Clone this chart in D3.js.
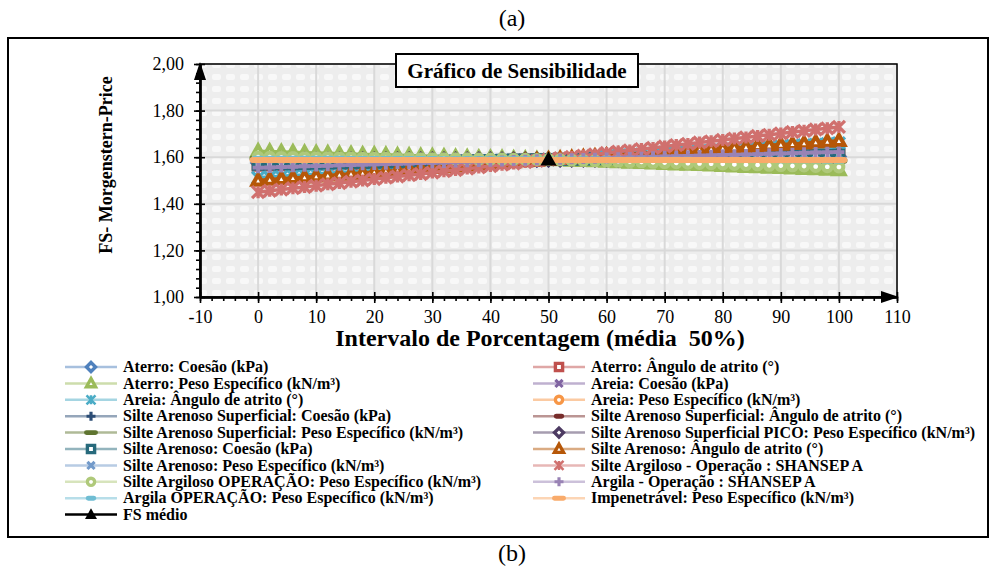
<!DOCTYPE html>
<html>
<head>
<meta charset="utf-8">
<script src="https://cdn.jsdelivr.net/npm/d3@7"></script>
<style>
body { margin: 0; background: #fff; }
svg text { font-family: "Liberation Serif", "Times New Roman", serif; fill: #000; }
</style>
</head>
<body>
<div id="chart"></div>
<script>
'use strict';

// intervalo de porcentagem (eixo x)
var pct = [0,2,4,6,8,10,12,14,16,18,20,22,24,26,28,30,32,34,36,38,40,42,44,46,48,50,52,54,56,58,60,62,64,66,68,70,72,74,76,78,80,82,84,86,88,90,92,94,96,98,100]

var aterroCoesao = [1.575,1.576,1.576,1.577,1.577,1.578,1.579,1.579,1.580,1.580,1.581,1.582,1.582,1.583,1.583,1.584,1.585,1.585,1.586,1.586,1.587,1.588,1.588,1.589,1.589,1.590,1.591,1.591,1.592,1.592,1.593,1.593,1.594,1.594,1.595,1.595,1.596,1.596,1.597,1.597,1.598,1.598,1.599,1.599,1.600,1.600,1.601,1.601,1.602,1.602,1.603]
var aterroAngulo = [1.565,1.566,1.567,1.568,1.569,1.570,1.571,1.572,1.573,1.574,1.575,1.576,1.577,1.578,1.579,1.580,1.581,1.582,1.583,1.584,1.585,1.586,1.587,1.588,1.589,1.590,1.591,1.592,1.593,1.594,1.594,1.595,1.596,1.597,1.598,1.599,1.600,1.601,1.601,1.602,1.603,1.604,1.605,1.606,1.607,1.607,1.608,1.609,1.610,1.611,1.612]
var aterroPeso = [1.625,1.624,1.622,1.621,1.619,1.618,1.617,1.615,1.614,1.612,1.611,1.610,1.608,1.607,1.605,1.604,1.603,1.601,1.600,1.598,1.597,1.596,1.594,1.593,1.591,1.590,1.588,1.586,1.585,1.583,1.581,1.579,1.577,1.576,1.574,1.572,1.570,1.568,1.567,1.565,1.563,1.561,1.559,1.558,1.556,1.554,1.552,1.550,1.549,1.547,1.545]
var areiaCoesao = [1.588,1.588,1.588,1.588,1.588,1.588,1.588,1.588,1.588,1.588,1.588,1.588,1.589,1.589,1.589,1.589,1.589,1.589,1.589,1.589,1.589,1.589,1.589,1.589,1.589,1.590,1.590,1.590,1.590,1.590,1.590,1.590,1.590,1.590,1.590,1.590,1.590,1.590,1.591,1.591,1.591,1.591,1.591,1.591,1.591,1.591,1.591,1.591,1.591,1.591,1.591]
var areiaAngulo = [1.512,1.515,1.518,1.521,1.524,1.528,1.531,1.534,1.537,1.540,1.543,1.546,1.549,1.553,1.556,1.559,1.562,1.565,1.568,1.571,1.574,1.578,1.581,1.584,1.587,1.590,1.593,1.596,1.598,1.601,1.604,1.607,1.610,1.612,1.615,1.618,1.621,1.624,1.626,1.629,1.632,1.635,1.638,1.640,1.643,1.646,1.649,1.652,1.654,1.657,1.660]
var areiaPeso = [1.592,1.592,1.592,1.592,1.592,1.592,1.592,1.592,1.592,1.592,1.592,1.592,1.591,1.591,1.591,1.591,1.591,1.591,1.591,1.591,1.591,1.591,1.591,1.591,1.591,1.590,1.590,1.590,1.590,1.590,1.590,1.590,1.590,1.590,1.590,1.590,1.590,1.590,1.588,1.588,1.588,1.588,1.588,1.588,1.588,1.588,1.588,1.588,1.588,1.588,1.588]
var sasCoesao = [1.582,1.582,1.583,1.583,1.583,1.584,1.584,1.584,1.585,1.585,1.585,1.586,1.586,1.586,1.587,1.587,1.587,1.588,1.588,1.588,1.589,1.589,1.589,1.590,1.590,1.590,1.591,1.591,1.592,1.592,1.592,1.593,1.593,1.593,1.594,1.594,1.594,1.595,1.595,1.595,1.596,1.596,1.596,1.596,1.597,1.597,1.597,1.597,1.597,1.597,1.597]
var sasAngulo = [1.572,1.573,1.573,1.574,1.575,1.576,1.576,1.577,1.578,1.578,1.579,1.580,1.581,1.581,1.582,1.583,1.584,1.584,1.585,1.586,1.586,1.587,1.588,1.589,1.589,1.590,1.591,1.591,1.592,1.593,1.593,1.594,1.594,1.595,1.596,1.596,1.597,1.598,1.598,1.599,1.599,1.600,1.601,1.601,1.602,1.603,1.603,1.604,1.604,1.605,1.606]
var sasPeso = [1.594,1.594,1.594,1.594,1.594,1.594,1.593,1.593,1.593,1.593,1.593,1.593,1.593,1.592,1.592,1.592,1.592,1.592,1.592,1.591,1.591,1.591,1.591,1.591,1.591,1.590,1.590,1.590,1.590,1.590,1.589,1.589,1.589,1.589,1.589,1.588,1.588,1.588,1.588,1.588,1.587,1.587,1.587,1.587,1.587,1.586,1.586,1.586,1.586,1.585,1.585]
var sasPicoPeso = [1.591,1.591,1.591,1.591,1.591,1.591,1.591,1.591,1.591,1.591,1.591,1.591,1.591,1.591,1.591,1.591,1.591,1.591,1.591,1.591,1.590,1.590,1.590,1.590,1.590,1.590,1.590,1.590,1.590,1.590,1.590,1.589,1.589,1.589,1.589,1.589,1.589,1.589,1.589,1.589,1.589,1.589,1.589,1.589,1.589,1.589,1.589,1.589,1.589,1.589,1.589]
var saCoesao = [1.570,1.571,1.572,1.572,1.573,1.574,1.575,1.576,1.576,1.577,1.578,1.579,1.580,1.580,1.581,1.582,1.583,1.584,1.584,1.585,1.586,1.587,1.588,1.588,1.589,1.590,1.591,1.591,1.592,1.593,1.594,1.594,1.595,1.596,1.596,1.597,1.598,1.599,1.599,1.600,1.601,1.602,1.602,1.603,1.604,1.604,1.605,1.606,1.607,1.607,1.608]
var saAngulo = [1.500,1.504,1.507,1.511,1.514,1.518,1.522,1.525,1.529,1.532,1.536,1.540,1.543,1.547,1.550,1.554,1.558,1.561,1.565,1.568,1.572,1.576,1.579,1.583,1.586,1.590,1.593,1.596,1.600,1.603,1.606,1.609,1.612,1.616,1.619,1.622,1.625,1.628,1.632,1.635,1.638,1.641,1.644,1.648,1.651,1.654,1.657,1.660,1.664,1.667,1.670]
var saPeso = [1.598,1.598,1.597,1.597,1.597,1.596,1.596,1.596,1.595,1.595,1.595,1.594,1.594,1.594,1.593,1.593,1.593,1.592,1.592,1.592,1.591,1.591,1.591,1.590,1.590,1.590,1.590,1.589,1.589,1.588,1.588,1.588,1.587,1.587,1.586,1.586,1.586,1.585,1.585,1.584,1.584,1.584,1.583,1.583,1.582,1.582,1.582,1.581,1.581,1.580,1.580]
var sArgShansep = [1.450,1.456,1.461,1.467,1.472,1.478,1.484,1.489,1.495,1.500,1.506,1.512,1.517,1.523,1.528,1.534,1.540,1.545,1.551,1.556,1.562,1.568,1.573,1.579,1.584,1.590,1.596,1.601,1.607,1.612,1.618,1.624,1.629,1.635,1.640,1.646,1.652,1.657,1.663,1.668,1.674,1.680,1.685,1.691,1.696,1.702,1.708,1.713,1.719,1.724,1.730]
var sArgOpPeso = [1.600,1.600,1.599,1.599,1.598,1.598,1.598,1.597,1.597,1.596,1.596,1.596,1.595,1.595,1.594,1.594,1.594,1.593,1.593,1.592,1.592,1.592,1.591,1.591,1.590,1.590,1.589,1.587,1.586,1.585,1.583,1.582,1.581,1.580,1.578,1.577,1.576,1.574,1.573,1.572,1.571,1.569,1.568,1.567,1.565,1.564,1.563,1.562,1.560,1.559,1.558]
var argilaShansep = [1.555,1.556,1.558,1.559,1.561,1.562,1.563,1.565,1.566,1.568,1.569,1.570,1.572,1.573,1.575,1.576,1.577,1.579,1.580,1.582,1.583,1.584,1.586,1.587,1.589,1.590,1.591,1.593,1.594,1.595,1.597,1.598,1.599,1.600,1.602,1.603,1.604,1.606,1.607,1.608,1.610,1.611,1.612,1.613,1.615,1.616,1.617,1.619,1.620,1.621,1.622]
var argilaOpPeso = [1.593,1.593,1.593,1.593,1.593,1.593,1.593,1.593,1.592,1.592,1.592,1.592,1.592,1.592,1.592,1.592,1.591,1.591,1.591,1.591,1.591,1.591,1.591,1.591,1.590,1.590,1.590,1.590,1.590,1.590,1.590,1.589,1.589,1.589,1.589,1.589,1.589,1.589,1.588,1.588,1.588,1.588,1.588,1.588,1.588,1.587,1.587,1.587,1.587,1.586,1.586]
var impenetravel = [1.588,1.588,1.588,1.588,1.588,1.588,1.588,1.588,1.588,1.588,1.588,1.588,1.588,1.588,1.588,1.588,1.588,1.588,1.588,1.588,1.588,1.588,1.588,1.588,1.588,1.588,1.588,1.588,1.588,1.588,1.588,1.588,1.588,1.588,1.588,1.588,1.588,1.588,1.588,1.588,1.588,1.588,1.588,1.588,1.588,1.588,1.588,1.588,1.588,1.588,1.588]
var fsMedioPct = [50]
var fsMedio = [1.59]

var labels = [
  'Aterro: Coesão (kPa)', 'Aterro: Ângulo de atrito (°)',
  'Aterro: Peso Específico (kN/m³)', 'Areia: Coesão (kPa)',
  'Areia: Ângulo de atrito (°)', 'Areia: Peso Específico (kN/m³)',
  'Silte Arenoso Superficial: Coesão (kPa)', 'Silte Arenoso Superficial: Ângulo de atrito (°)',
  'Silte Arenoso Superficial: Peso Específico (kN/m³)', 'Silte Arenoso Superficial PICO: Peso Específico (kN/m³)',
  'Silte Arenoso: Coesão (kPa)', 'Silte Arenoso: Ângulo de atrito (°)',
  'Silte Arenoso: Peso Específico (kN/m³)', 'Silte Argiloso - Operação : SHANSEP A',
  'Silte Argiloso OPERAÇÃO: Peso Específico (kN/m³)', 'Argila - Operação : SHANSEP A',
  'Argila OPERAÇÃO: Peso Específico (kN/m³)', 'Impenetrável: Peso Específico (kN/m³)',
  'FS médio'
]
var xTicks = [-10,0,10,20,30,40,50,60,70,80,90,100,110]
var yTicks = [1.0,1.2,1.4,1.6,1.8,2.0]

// estilos
var colors = ['#4F81BD','#C0504D','#9BBB59','#8064A2','#4BACC6','#F79646',
  '#2C4D75','#772C2A','#5F7530','#4D3B62','#276A7C','#B65708',
  '#729ACA','#D0706E','#AFC97A','#9983B5','#6FBDD3','#F9AB6B','#000000']
var markers = ['diamond','square','triangle','x','star','circle',
  'plus','dash','dashLong','diamond','square','triangle',
  'x','star','circle','plus','dash','dashLong','triangleFill']

var values = [aterroCoesao, aterroAngulo, aterroPeso, areiaCoesao, areiaAngulo, areiaPeso,
  sasCoesao, sasAngulo, sasPeso, sasPicoPeso, saCoesao, saAngulo,
  saPeso, sArgShansep, sArgOpPeso, argilaShansep, argilaOpPeso, impenetravel, fsMedio]

var series = values.map(function(v, i) {
  var xs = i === 18 ? fsMedioPct : pct
  return {
    name: labels[i], color: colors[i], marker: markers[i],
    points: v.map(function(d, j) { return [xs[j], d] })
  }
})

var svg = d3.select('#chart').append('svg').attr('width', 996).attr('height', 567)

var defs = svg.append('defs')
var pat = defs.append('pattern').attr('id', 'bgpat')
  .attr('width', 14).attr('height', 12).attr('patternUnits', 'userSpaceOnUse')
pat.append('rect').attr('width', 14).attr('height', 12).attr('fill', '#ededed')
pat.append('rect').attr('x', 2).attr('y', 2).attr('width', 9).attr('height', 6)
  .attr('rx', 2).attr('fill', '#f8f8f8')

svg.append('text').attr('x', 512).attr('y', 26).attr('text-anchor', 'middle')
  .style('font-size', '24px').text('(a)')
svg.append('text').attr('x', 512).attr('y', 561).attr('text-anchor', 'middle')
  .style('font-size', '24px').text('(b)')

svg.append('rect').attr('x', 8).attr('y', 38).attr('width', 980).attr('height', 499)
  .attr('fill', 'none').attr('stroke', '#000').attr('stroke-width', 2)

var x = d3.scaleLinear().domain([-10, 110]).range([200, 897])
var y = d3.scaleLinear().domain([1, 2]).range([297, 64])

var fmt = function(d) { return d.toFixed(2).replace('.', ',') }

// area do grafico
svg.append('rect').attr('x', 200).attr('y', 64).attr('width', 697).attr('height', 233)
  .attr('fill', 'url(#bgpat)')

var grid = svg.append('g').attr('class', 'grid')
grid.selectAll('.vg').data(xTicks.slice(1)).enter().append('line')
  .attr('x1', function(d) { return x(d) }).attr('x2', function(d) { return x(d) })
  .attr('y1', y(2)).attr('y2', y(1))
  .attr('stroke', '#d9d9d9').attr('stroke-width', 2)
grid.selectAll('.hg').data(yTicks.slice(1)).enter().append('line')
  .attr('x1', x(-10)).attr('x2', x(110))
  .attr('y1', function(d) { return y(d) }).attr('y2', function(d) { return y(d) })
  .attr('stroke', '#d9d9d9').attr('stroke-width', 2)

svg.append('rect').attr('x', 200).attr('y', 64).attr('width', 697).attr('height', 233)
  .attr('fill', 'none').attr('stroke', '#000').attr('stroke-width', 1.5)

function markerPath(type, r) {
  if (type === 'diamond') return 'M0,' + (-r) + 'L' + r + ',0L0,' + r + 'L' + (-r) + ',0Z'
  if (type === 'square') { var s = r * 0.8; return 'M' + (-s) + ',' + (-s) + 'H' + s + 'V' + s + 'H' + (-s) + 'Z' }
  if (type === 'triangle' || type === 'triangleFill') return 'M0,' + (-r * 1.05) + 'L' + r + ',' + (r * 0.75) + 'L' + (-r) + ',' + (r * 0.75) + 'Z'
  if (type === 'circle') return 'M' + r * 0.8 + ',0A' + r * 0.8 + ',' + r * 0.8 + ' 0 1,1 ' + (-r * 0.8) + ',0A' + r * 0.8 + ',' + r * 0.8 + ' 0 1,1 ' + r * 0.8 + ',0Z'
  if (type === 'x') return 'M' + (-r * 0.8) + ',' + (-r * 0.8) + 'L' + r * 0.8 + ',' + r * 0.8 + 'M' + r * 0.8 + ',' + (-r * 0.8) + 'L' + (-r * 0.8) + ',' + r * 0.8
  if (type === 'star') return 'M' + (-r) + ',' + (-r) + 'L' + r + ',' + r + 'M' + r + ',' + (-r) + 'L' + (-r) + ',' + r + 'M0,' + (-r) + 'L0,' + r
  if (type === 'plus') return 'M' + (-r) + ',0L' + r + ',0M0,' + (-r) + 'L0,' + r
  if (type === 'dash') return 'M' + (-r * 0.6) + ',0L' + r * 0.6 + ',0'
  if (type === 'dashLong') return 'M' + (-r) + ',0L' + r + ',0'
  return ''
}

function drawMarker(g, type, color, r, cx, cy) {
  var p = g.append('path').attr('d', markerPath(type, r))
    .attr('transform', 'translate(' + cx + ',' + cy + ')')
  if (type === 'triangleFill') {
    p.attr('fill', color)
  } else if (type === 'diamond' || type === 'square' || type === 'triangle' || type === 'circle') {
    p.attr('fill', '#fff').attr('stroke', color).attr('stroke-width', r * 0.75)
  } else if (type === 'dash' || type === 'dashLong') {
    p.attr('fill', 'none').attr('stroke', color).attr('stroke-width', r * 1.1).attr('stroke-linecap', 'round')
  } else if (type === 'star') {
    p.attr('fill', 'none').attr('stroke', color).attr('stroke-width', r * 0.55)
  } else {
    p.attr('fill', 'none').attr('stroke', color).attr('stroke-width', r * 0.7)
  }
}

var line = d3.line().x(function(d) { return x(d[0]) }).y(function(d) { return y(d[1]) })

var plot = svg.append('g').attr('class', 'series')
series.forEach(function(s) {
  var g = plot.append('g')
  if (s.points.length > 1) {
    g.append('path').datum(s.points).attr('d', line)
      .attr('fill', 'none').attr('stroke', s.color).attr('stroke-width', 3.5)
  }
  var r = s.marker === 'star' ? 6 : (s.marker === 'triangleFill' ? 8 : 5.5)
  s.points.forEach(function(d) {
    drawMarker(g, s.marker, s.color, r, x(d[0]), y(d[1]))
  })
})

// eixos
var minorX = d3.range(-10, 110.1, 2)
var minorY = d3.range(0, 26).map(function(i) { return 1 + i * 0.04 })

var xaxis = svg.append('g').attr('transform', 'translate(0,297)')
xaxis.call(d3.axisBottom(x).tickValues(xTicks).tickSize(6).tickSizeOuter(0).tickPadding(7)
  .tickFormat(function(d) { return String(d) }))
xaxis.append('g').call(d3.axisBottom(x).tickValues(minorX).tickSize(4).tickSizeOuter(0).tickFormat(''))
xaxis.append('g').call(d3.axisTop(x).tickValues(xTicks).tickSize(5).tickSizeOuter(0).tickFormat(''))
xaxis.selectAll('text').style('font-size', '18px')

var yaxis = svg.append('g').attr('transform', 'translate(200,0)')
yaxis.call(d3.axisLeft(y).tickValues(yTicks).tickSize(6).tickSizeOuter(0).tickPadding(10).tickFormat(fmt))
yaxis.append('g').call(d3.axisLeft(y).tickValues(minorY).tickSize(4).tickSizeOuter(0).tickFormat(''))
yaxis.append('g').call(d3.axisRight(y).tickValues(yTicks).tickSize(5).tickSizeOuter(0).tickFormat(''))
yaxis.selectAll('text').style('font-size', '18px')

svg.selectAll('.domain').attr('stroke', '#000').attr('stroke-width', 2)
svg.selectAll('.tick line').attr('stroke', '#000').attr('stroke-width', 1.6)

// setas
svg.append('path').attr('d', 'M200,62L206,80L194,80Z').attr('fill', '#000')
svg.append('path').attr('d', 'M899,297L881,291L881,303Z').attr('fill', '#000')

svg.append('text').attr('transform', 'translate(112,165) rotate(-90)')
  .attr('text-anchor', 'middle').style('font-size', '18px').style('font-weight', 'bold')
  .text('FS- Morgenstern-Price')

svg.append('text').attr('x', 540).attr('y', 346).attr('text-anchor', 'middle')
  .attr('xml:space', 'preserve').style('white-space', 'pre')
  .style('font-size', '24px').style('font-weight', 'bold')
  .text('Intervalo de Porcentagem (média  50%)')

// titulo
svg.append('rect').attr('x', 396).attr('y', 54).attr('width', 242).attr('height', 33)
  .attr('fill', '#fff').attr('stroke', '#000').attr('stroke-width', 2)
svg.append('text').attr('x', 517).attr('y', 78).attr('text-anchor', 'middle')
  .style('font-size', '21px').style('font-weight', 'bold')
  .text('Gráfico de Sensibilidade')

// legenda
var legend = svg.append('g').attr('class', 'legend')
series.forEach(function(s, i) {
  var col = i % 2
  var row = Math.floor(i / 2)
  var x0 = col === 0 ? 65 : 533
  var cy = 367 + row * 16.4
  var g = legend.append('g')
  g.append('line').attr('x1', x0).attr('x2', x0 + 52).attr('y1', cy).attr('y2', cy)
    .attr('stroke', s.color).attr('stroke-width', 2.5)
    .attr('stroke-opacity', s.marker === 'triangleFill' ? 1 : 0.5)
  drawMarker(g, s.marker, s.color, s.marker === 'triangleFill' ? 6 : 4.5, x0 + 26, cy)
  g.append('text').attr('x', x0 + 58).attr('y', cy).attr('dy', '0.33em')
    .style('font-size', '16px').style('font-weight', 'bold').text(s.name)
})
</script>
</body>
</html>
